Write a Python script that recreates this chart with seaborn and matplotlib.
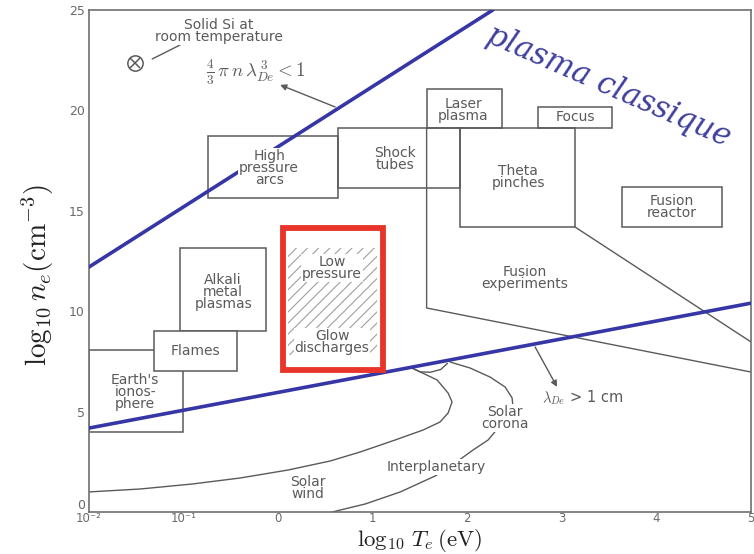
import numpy as np
import pandas as pd
import matplotlib
matplotlib.use("Agg")
import matplotlib.pyplot as plt
from matplotlib.patches import Rectangle
import seaborn as sns

# ---------------------------------------------------------------- axes
x_ticks = [-2, -1, 0, 1, 2, 3, 4, 5]
x_tick_labels = ["10⁻²", "10⁻¹", "0", "1", "2", "3", "4", "5"]
y_ticks = [0, 5, 10, 15, 20, 25]

# ---------------------------------------------------------------- limit lines (blue)
ideal_T = [-2.0, 2.27]          # (4/3) pi n lambda_De^3 = 1
ideal_n = [12.2, 25.0]
debye_T = [-2.0, 5.0]           # lambda_De = 1 cm
debye_n = [4.18, 10.4]

# ---------------------------------------------------------------- rectangular regions
box_names = ["arcs", "shock", "laser", "focus", "theta", "reactor",
             "alkali", "earth", "flames"]
box_T0 = [-0.74, 0.634, 1.57, 2.748, 1.924, 3.636, -1.036, -2.0, -1.311]
box_T1 = [0.634, 1.924, 2.368, 3.531, 3.14, 4.693, -0.127, -1.004, -0.433]
box_n0 = [15.64, 16.14, 19.12, 19.12, 14.19, 14.19, 9.01, 3.98, 7.02]
box_n1 = [18.72, 19.12, 21.07, 20.17, 19.12, 16.19, 13.15, 8.07, 9.01]

# ---------------------------------------------------------------- region labels
label_text = ["High\npressure\narcs", "Shock\ntubes", "Laser\nplasma", "Focus",
              "Theta\npinches", "Fusion\nreactor", "Alkali\nmetal\nplasmas",
              "Earth's\nionos-\nphere", "Flames", "Fusion\nexperiments",
              "Low\npressure", "Glow\ndischarges", "Solar\ncorona",
              "Interplanetary", "Solar\nwind", "Solid Si at\nroom temperature"]
label_T = [-0.095, 1.237, 1.956, 3.14, 2.537, 4.165, -0.581, -1.512, -0.877,
           2.611, 0.571, 0.571, 2.40, 1.67, 0.317, -0.63]
label_n = [17.13, 17.58, 20.02, 19.67, 16.68, 15.19, 10.96, 5.98, 8.02,
           11.65, 12.15, 8.47, 4.68, 2.24, 1.20, 23.95]

# ---------------------------------------------------------------- fusion experiments outline
fusion_left_T = [1.57, 1.57, 5.0]
fusion_left_n = [19.12, 10.16, 6.97]
fusion_top_T = [3.14, 5.0]
fusion_top_n = [14.19, 8.47]

# ---------------------------------------------------------------- glow discharge range
glow_T = [0.106, 1.05]
glow_n = [7.8, 13.15]
glow_frame_T = [0.053, 1.11]
glow_frame_n = [7.07, 14.14]

# ---------------------------------------------------------------- space plasmas
wind_T = [-2.0, -1.459, -0.909, -0.402, 0.106, 0.550, 0.867, 1.237, 1.533,
          1.712, 1.797, 1.839, 1.797, 1.681, 1.416]
wind_n = [1.0, 1.145, 1.394, 1.693, 2.092, 2.540, 2.988, 3.586, 4.084,
          4.482, 4.930, 5.478, 5.926, 6.574, 7.171]
cup_T = [1.416, 1.50, 1.61, 1.72, 1.79]
cup_n = [7.17, 6.98, 6.96, 7.10, 7.40]
corona_T = [1.818, 2.030, 2.241, 2.400, 2.474, 2.484, 2.410, 2.326, 2.220,
            2.061, 1.871, 1.660, 1.290, 0.920, 0.571]
corona_n = [7.47, 7.17, 6.72, 6.225, 5.677, 5.18, 4.58, 4.18, 3.586,
            3.088, 2.44, 1.793, 0.996, 0.398, 0.0]

# ---------------------------------------------------------------- solid Si marker
si_T = [-1.51]
si_n = [22.36]
si_link_T = [-1.332, -1.036]
si_link_n = [22.56, 23.26]

GREY = "#5a5a5a"
BLUE = "#3636a6"
RED = "#e8342a"

sns.set_theme(style="white")
plt.rcParams["font.family"] = ["DejaVu Sans"]
plt.rcParams["mathtext.fontset"] = "cm"
plt.rcParams["hatch.linewidth"] = 0.8

fig = plt.figure(figsize=(7.54, 5.54), dpi=100)
ax = fig.add_axes([89 / 754, 42 / 554, 662 / 754, 502 / 554])
ax.set_xlim(-2, 5)
ax.set_ylim(0, 25)


def curve(T, n, **kw):
    df = pd.DataFrame({"T": T, "n": n})
    sns.lineplot(data=df, x="T", y="n", sort=False, estimator=None, ax=ax, **kw)


# boxes
for name, t0, t1, n0, n1 in zip(box_names, box_T0, box_T1, box_n0, box_n1):
    face = "white" if name == "flames" else "none"
    z = 2.2 if name == "flames" else 2
    ax.add_patch(Rectangle((t0, n0), t1 - t0, n1 - n0, facecolor=face,
                           edgecolor=GREY, lw=1.1, zorder=z))

# fusion experiments outline
curve(fusion_left_T, fusion_left_n, color=GREY, lw=1.0, zorder=2)
curve(fusion_top_T, fusion_top_n, color=GREY, lw=1.0, zorder=2)

# space plasmas
curve(wind_T, wind_n, color=GREY, lw=1.0, zorder=2)
curve(cup_T, cup_n, color=GREY, lw=1.0, zorder=2)
curve(corona_T, corona_n, color=GREY, lw=1.0, zorder=2)

# glow discharges: hatched area and red frame
ax.add_patch(Rectangle((glow_T[0], glow_n[0]), glow_T[1] - glow_T[0],
                       glow_n[1] - glow_n[0], facecolor="white",
                       edgecolor="#a0a0a0", lw=0, hatch="///", zorder=1.5))
ax.add_patch(Rectangle((glow_frame_T[0], glow_frame_n[0]),
                       glow_frame_T[1] - glow_frame_T[0],
                       glow_frame_n[1] - glow_frame_n[0], facecolor="none",
                       edgecolor=RED, lw=4.2, zorder=5))

# limit lines
curve(ideal_T, ideal_n, color=BLUE, lw=2.6, zorder=3)
curve(debye_T, debye_n, color=BLUE, lw=2.6, zorder=3)

# solid Si marker
curve(si_link_T, si_link_n, color=GREY, lw=1.0, zorder=2)
ax.plot(si_T, si_n, marker="o", ms=11, mfc="white", mec=GREY, mew=1.1,
        ls="none", zorder=3)
ax.plot(si_T, si_n, marker="x", ms=7, mec=GREY, mew=1.1, ls="none", zorder=3)

# labels
for txt, t, n in zip(label_text, label_T, label_n):
    ax.text(t, n, txt, ha="center", va="center", fontsize=10, color=GREY,
            linespacing=0.82, zorder=4,
            bbox=dict(facecolor="white", edgecolor="none", pad=0.6))

# criterion annotations
ax.text(-0.233, 21.9, r"$\frac{4}{3}\,\pi\, n\, \lambda_{De}^{\,3} < 1$",
        ha="center", va="center", fontsize=13.5, color=GREY, zorder=4)
ax.annotate("", xy=(0.021, 21.27), xytext=(0.603, 20.17),
            arrowprops=dict(arrowstyle="-|>", color=GREY, lw=1.0,
                            mutation_scale=9, shrinkA=0, shrinkB=0), zorder=4)
ax.text(2.79, 5.68, r"$\lambda_{De}$ > 1 cm", ha="left", va="center",
        fontsize=10.5, color=GREY, zorder=4)
ax.annotate("", xy=(2.949, 6.23), xytext=(2.717, 8.22),
            arrowprops=dict(arrowstyle="-|>", color=GREY, lw=1.0,
                            mutation_scale=9, shrinkA=0, shrinkB=0), zorder=4)

ax.text(3.49, 21.2, "plasma classique", rotation=-23.6, rotation_mode="anchor",
        ha="center", va="center", fontsize=22, color="#3e3e9e",
        family="DejaVu Serif", style="italic", zorder=4)

# axes styling
ax.set_xticks(x_ticks)
ax.set_xticklabels(x_tick_labels)
ax.set_yticks(y_ticks)
ax.tick_params(axis="both", direction="in", colors="#6a6a6a", labelsize=9,
               labelcolor="#6a6a6a", width=1.0, pad=3)
ax.tick_params(axis="x", length=6, pad=0, labelsize=8.5)
ax.tick_params(axis="y", length=10)
ax.get_yticklabels()[0].set_verticalalignment("bottom")
for s in ax.spines.values():
    s.set_color("#707070")
    s.set_linewidth(1.2)

ax.set_ylabel(r"$\log_{10} n_e(\mathrm{cm}^{-3})$", fontsize=21, color="#222222")
ax.yaxis.set_label_coords(-0.05, 0.472)

# x label: as large as fits between the tick labels and the figure edge
fig.canvas.draw()
renderer = fig.canvas.get_renderer()
tick_bottom = min(t.get_window_extent(renderer).y0
                  for t in ax.get_xticklabels())
ax_box = ax.get_window_extent(renderer)
xlab = ax.set_xlabel(r"$\log_{10}\, T_e\,(\mathrm{eV})$", fontsize=19,
                     color="#222222")
xlab.set_verticalalignment("top")
top_frac = (tick_bottom - 1.5 - ax_box.y0) / ax_box.height
ax.xaxis.set_label_coords(0.5, top_frac)
size = 19.0
while size > 12:
    xlab.set_fontsize(size)
    fig.canvas.draw()
    if xlab.get_window_extent(renderer).y0 >= 0.5:
        break
    size -= 0.25

fig.savefig("out.png", dpi=100)
